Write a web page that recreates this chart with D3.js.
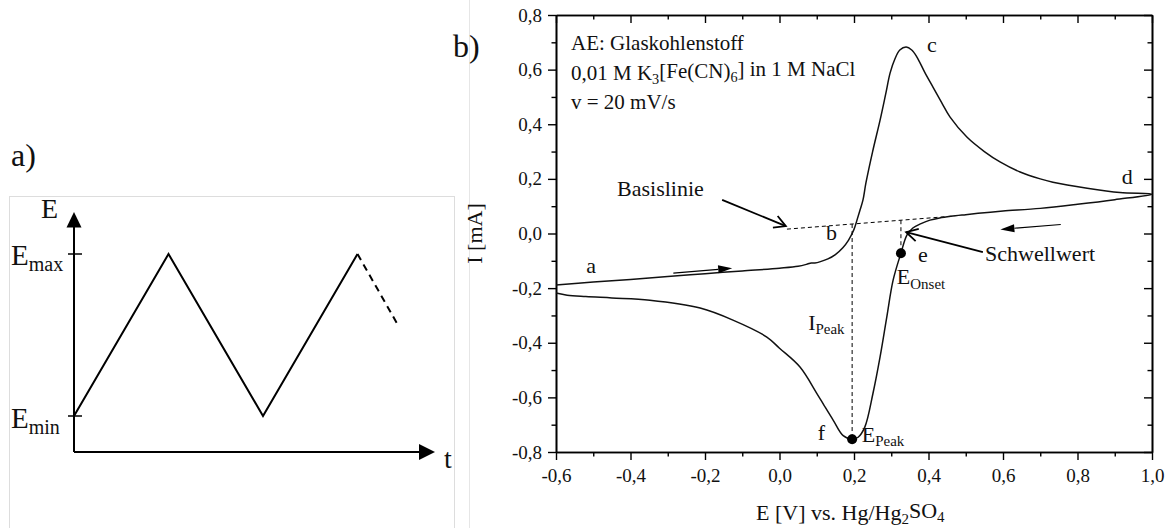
<!DOCTYPE html>
<html>
<head>
<meta charset="utf-8">
<script src="https://cdn.jsdelivr.net/npm/d3@7"></script>
<style>
  body { margin: 0; background: #fff; }
  svg { display: block; }
  text { font-family: "Liberation Serif", "Times New Roman", serif; fill: #111; }
</style>
</head>
<body>
<div id="chart"></div>
<script>
// --- panel a: triangular potential program (t in half-cycles, E as 0=min .. 1=max)
const waveT = [0, 1, 2, 3];
const waveE = [0, 1, 0, 1];
const tailT = [3, 3.42];
const tailE = [1, 0.57];

// --- panel b: cyclic voltammogram, E [V] and I [mA]
const fwdE = [-0.6, -0.5, -0.4, -0.3, -0.2, -0.1, 0.0, 0.05, 0.075, 0.085, 0.095, 0.11, 0.13, 0.15, 0.17, 0.185,
  0.2, 0.208, 0.216, 0.224, 0.232, 0.25, 0.27, 0.285, 0.297, 0.31, 0.323, 0.34, 0.355, 0.369, 0.39, 0.412,
  0.435, 0.458, 0.503, 0.55, 0.592, 0.646, 0.7, 0.734, 0.826, 0.914, 1.0];
const fwdI = [-0.189, -0.178, -0.168, -0.157, -0.147, -0.137, -0.127, -0.12, -0.112, -0.108, -0.108, -0.103, -0.093, -0.077, -0.052, -0.025,
  0.015, 0.049, 0.085, 0.122, 0.185, 0.3, 0.415, 0.51, 0.588, 0.64, 0.672, 0.683, 0.672, 0.646, 0.59, 0.536,
  0.48, 0.426, 0.353, 0.3, 0.262, 0.225, 0.2, 0.188, 0.166, 0.15, 0.144];
const revE = [1.0, 0.9, 0.8, 0.7, 0.6, 0.55, 0.5, 0.46, 0.43, 0.404, 0.38, 0.358, 0.342, 0.326, 0.305, 0.288,
  0.27, 0.251, 0.229, 0.211, 0.195, 0.171, 0.144, 0.12, 0.1, 0.055, 0.0, -0.034, -0.125, -0.213, -0.348,
  -0.45, -0.52, -0.57, -0.6];
const revI = [0.144, 0.124, 0.107, 0.092, 0.082, 0.076, 0.069, 0.063, 0.057, 0.049, 0.036, 0.02, -0.006, -0.072, -0.171, -0.306,
  -0.452, -0.585, -0.709, -0.746, -0.753, -0.74, -0.683, -0.63, -0.585, -0.489, -0.42, -0.379, -0.317, -0.273, -0.244,
  -0.236, -0.231, -0.226, -0.218];

const xMajor = [-0.6, -0.4, -0.2, 0.0, 0.2, 0.4, 0.6, 0.8, 1.0];
const xMinor = [-0.5, -0.3, -0.1, 0.1, 0.3, 0.5, 0.7, 0.9];
const yMajor = [-0.8, -0.6, -0.4, -0.2, 0.0, 0.2, 0.4, 0.6, 0.8];
const yMinor = [-0.7, -0.5, -0.3, -0.1, 0.1, 0.3, 0.5, 0.7];

const baseE = [0.02, 0.47];
const baseI = [0.016, 0.064];
const peakE = 0.195, peakI = -0.753;
const onsetE = 0.326, onsetI = -0.072;

const W = 1173, H = 528;
const svg = d3.select("#chart").append("svg").attr("width", W).attr("height", H);
svg.append("rect").attr("width", W).attr("height", H).attr("fill", "#fff");

const fmt = d => d3.format(".1f")(d).replace(".", ",").replace("\u2212", "-");
const sub = (sel, parts, subSize) => {
  // parts: [text, isSub]
  parts.forEach(([t, s], i) => {
    const prev = i > 0 ? parts[i - 1][1] : false;
    sel.append("tspan")
      .attr("font-size", s ? (subSize || "0.68em") : null)
      .attr("dy", s && !prev ? "0.3em" : (!s && prev ? "-0.3em" : null))
      .text(t);
  });
  return sel;
};

// ---------------- panel a ----------------
svg.append("rect").attr("x", 9.5).attr("y", 196.5).attr("width", 445).attr("height", 340)
  .attr("fill", "none").attr("stroke", "#ddd").attr("stroke-width", 1);
svg.append("line").attr("x1", 469.5).attr("x2", 469.5).attr("y1", 0).attr("y2", H)
  .attr("stroke", "#e6e6e6");

svg.append("text").attr("x", 11).attr("y", 166).attr("font-size", 32).text("a)");

const tx = d3.scaleLinear().domain([0, 1]).range([74, 168.5]);
const ey = d3.scaleLinear().domain([0, 1]).range([416, 254]);
const ga = svg.append("g");
const axisY0 = ey(-0.222);
ga.append("line").attr("x1", tx(0)).attr("x2", tx(0)).attr("y1", axisY0).attr("y2", ey(1.17))
  .attr("stroke", "#000").attr("stroke-width", 2);
ga.append("line").attr("x1", tx(0)).attr("x2", tx(3.66)).attr("y1", axisY0).attr("y2", axisY0)
  .attr("stroke", "#000").attr("stroke-width", 2);
ga.append("path").attr("d", `M${tx(0)},${ey(1.26)} L${tx(0) - 7.5},${ey(1.163)} L${tx(0) + 7.5},${ey(1.163)} Z`);
ga.append("path").attr("d", `M${tx(3.82)},${axisY0} L${tx(3.651)},${axisY0 - 8} L${tx(3.651)},${axisY0 + 8} Z`);
[0, 1].forEach(v => ga.append("line").attr("x1", tx(0) - 6).attr("x2", tx(0) + 8)
  .attr("y1", ey(v)).attr("y2", ey(v)).attr("stroke", "#000").attr("stroke-width", 1.5));

const waveLine = d3.line().x(d => tx(d[0])).y(d => ey(d[1]));
ga.append("path").attr("d", waveLine(waveT.map((t, i) => [t, waveE[i]])))
  .attr("fill", "none").attr("stroke", "#000").attr("stroke-width", 2);
ga.append("path").attr("d", waveLine(tailT.map((t, i) => [t, tailE[i]])))
  .attr("fill", "none").attr("stroke", "#000").attr("stroke-width", 2).attr("stroke-dasharray", "7,5");

ga.append("text").attr("x", 41).attr("y", 218).attr("font-size", 28).text("E");
ga.append("text").attr("x", 444).attr("y", 468).attr("font-size", 28).text("t");
sub(ga.append("text").attr("x", 11).attr("y", ey(1) + 11).attr("font-size", 29), [["E", false], ["max", true]], "20px");
sub(ga.append("text").attr("x", 11).attr("y", ey(0) + 12).attr("font-size", 29), [["E", false], ["min", true]], "20px");

// ---------------- panel b ----------------
const x = d3.scaleLinear().domain([-0.6, 1.0]).range([556, 1152]);
const y = d3.scaleLinear().domain([-0.8, 0.8]).range([452, 15]);
const gb = svg.append("g");

svg.append("text").attr("x", 453).attr("y", 57).attr("font-size", 32).text("b)");

const styleAxis = g => {
  g.select(".domain").attr("stroke", "#000").attr("stroke-width", 1.6);
  g.selectAll(".tick line").attr("stroke", "#000").attr("stroke-width", 1.4);
  g.selectAll(".tick text").style("font-family", "'Liberation Serif', serif").style("font-size", "19px").attr("fill", "#111");
};
gb.append("g").attr("transform", `translate(0,${y(-0.8)})`)
  .call(d3.axisBottom(x).tickValues(xMajor).tickFormat(fmt).tickSize(8).tickSizeOuter(0).tickPadding(9)).call(styleAxis);
gb.append("g").attr("transform", `translate(0,${y(-0.8)})`)
  .call(d3.axisBottom(x).tickValues(xMinor).tickFormat("").tickSize(4.5).tickSizeOuter(0)).call(styleAxis);
gb.append("g").attr("transform", `translate(${x(-0.6)},0)`)
  .call(d3.axisLeft(y).tickValues(yMajor).tickFormat(fmt).tickSize(8).tickSizeOuter(0).tickPadding(6)).call(styleAxis);
gb.append("g").attr("transform", `translate(${x(-0.6)},0)`)
  .call(d3.axisLeft(y).tickValues(yMinor).tickFormat("").tickSize(4.5).tickSizeOuter(0)).call(styleAxis);
gb.append("g").attr("transform", `translate(0,${y(0.8)})`)
  .call(d3.axisTop(x).tickValues(xMajor).tickFormat("").tickSize(-8).tickSizeOuter(0)).call(styleAxis);
gb.append("g").attr("transform", `translate(0,${y(0.8)})`)
  .call(d3.axisTop(x).tickValues(xMinor).tickFormat("").tickSize(-4.5).tickSizeOuter(0)).call(styleAxis);
gb.append("g").attr("transform", `translate(${x(1.0)},0)`)
  .call(d3.axisRight(y).tickValues(yMajor).tickFormat("").tickSize(-8).tickSizeOuter(0)).call(styleAxis);
gb.append("g").attr("transform", `translate(${x(1.0)},0)`)
  .call(d3.axisRight(y).tickValues(yMinor).tickFormat("").tickSize(-4.5).tickSizeOuter(0)).call(styleAxis);

// axis titles
gb.append("text").attr("transform", `translate(482,${y(0)}) rotate(-90)`).attr("text-anchor", "middle")
  .attr("font-size", 22).text("I [mA]");
sub(gb.append("text").attr("x", x(0.19)).attr("y", 520).attr("text-anchor", "middle").attr("font-size", 22),
  [["E [V] vs. Hg/Hg", false], ["2", true], ["SO", false], ["4", true]]);

// info text
gb.append("text").attr("x", 571).attr("y", 50).attr("font-size", 21).text("AE: Glaskohlenstoff");
sub(gb.append("text").attr("x", 571).attr("y", 80).attr("font-size", 21),
  [["0,01 M K", false], ["3", true], ["[Fe(CN)", false], ["6", true], ["] in 1 M NaCl", false]]);
gb.append("text").attr("x", 571).attr("y", 109).attr("font-size", 21).text("v = 20 mV/s");

// baseline + guide lines
const dash = "4,3";
gb.append("line").attr("x1", x(baseE[0])).attr("y1", y(baseI[0])).attr("x2", x(baseE[1])).attr("y2", y(baseI[1]))
  .attr("stroke", "#000").attr("stroke-width", 1).attr("stroke-dasharray", dash);
const baseAt = e => baseI[0] + (e - baseE[0]) * (baseI[1] - baseI[0]) / (baseE[1] - baseE[0]);
gb.append("line").attr("x1", x(peakE)).attr("x2", x(peakE)).attr("y1", y(baseAt(peakE))).attr("y2", y(peakI))
  .attr("stroke", "#000").attr("stroke-width", 1).attr("stroke-dasharray", dash);
gb.append("line").attr("x1", x(onsetE)).attr("x2", x(onsetE)).attr("y1", y(baseAt(onsetE))).attr("y2", y(onsetI))
  .attr("stroke", "#000").attr("stroke-width", 1).attr("stroke-dasharray", dash);

// CV curve
const cv = fwdE.map((e, i) => [e, fwdI[i]]).concat(revE.slice(1).map((e, i) => [e, revI[i + 1]]));
gb.append("path").attr("d", d3.line().x(d => x(d[0])).y(d => y(d[1])).curve(d3.curveCatmullRom.alpha(0.5))(cv))
  .attr("fill", "none").attr("stroke", "#111").attr("stroke-width", 1.5);

// points
gb.append("circle").attr("cx", x(peakE)).attr("cy", y(peakI)).attr("r", 5).attr("fill", "#000");
gb.append("circle").attr("cx", x(onsetE)).attr("cy", y(onsetI)).attr("r", 5).attr("fill", "#000");

// scan direction arrows (filled heads)
const scanArrow = (e0, i0, e1, i1) => {
  const x0 = x(e0), y0 = y(i0), x1 = x(e1), y1 = y(i1);
  const a = Math.atan2(y1 - y0, x1 - x0), L = 14, w = 4;
  gb.append("line").attr("x1", x0).attr("y1", y0).attr("x2", x1 - L * Math.cos(a)).attr("y2", y1 - L * Math.sin(a))
    .attr("stroke", "#000").attr("stroke-width", 1.2);
  const bx = x1 - L * Math.cos(a), by = y1 - L * Math.sin(a);
  gb.append("path").attr("d", `M${x1},${y1} L${bx - w * Math.sin(a)},${by + w * Math.cos(a)} L${bx + w * Math.sin(a)},${by - w * Math.cos(a)} Z`)
    .attr("fill", "#000");
};
scanArrow(-0.285, -0.145, -0.127, -0.127);
scanArrow(0.755, 0.033, 0.593, 0.015);

// annotation arrows (open heads)
const noteArrow = (e0, i0, e1, i1) => {
  const x0 = x(e0), y0 = y(i0), x1 = x(e1), y1 = y(i1);
  const a = Math.atan2(y1 - y0, x1 - x0), L = 13, s = 0.5;
  gb.append("line").attr("x1", x0).attr("y1", y0).attr("x2", x1).attr("y2", y1)
    .attr("stroke", "#000").attr("stroke-width", 1.8);
  gb.append("path").attr("d",
    `M${x1 - L * Math.cos(a - s)},${y1 - L * Math.sin(a - s)} L${x1},${y1} L${x1 - L * Math.cos(a + s)},${y1 - L * Math.sin(a + s)}`)
    .attr("fill", "none").attr("stroke", "#000").attr("stroke-width", 1.8);
};
noteArrow(-0.154, 0.123, 0.017, 0.027);
noteArrow(0.546, -0.068, 0.34, 0.005);

// labels
const lab = (e, i, size) => gb.append("text").attr("x", x(e)).attr("y", y(i)).attr("font-size", size || 22);
lab(-0.519, -0.145).text("a");
lab(0.125, -0.024).text("b");
lab(0.396, 0.665).text("c");
lab(0.919, 0.181).text("d");
lab(0.372, -0.104).text("e");
lab(0.103, -0.756).text("f");
lab(-0.436, 0.137).text("Basislinie");
lab(0.552, -0.1).text("Schwellwert");
sub(lab(0.077, -0.353), [["I", false], ["Peak", true]]);
sub(lab(0.221, -0.763), [["E", false], ["Peak", true]]);
sub(lab(0.315, -0.185), [["E", false], ["Onset", true]]);
</script>
</body>
</html>
